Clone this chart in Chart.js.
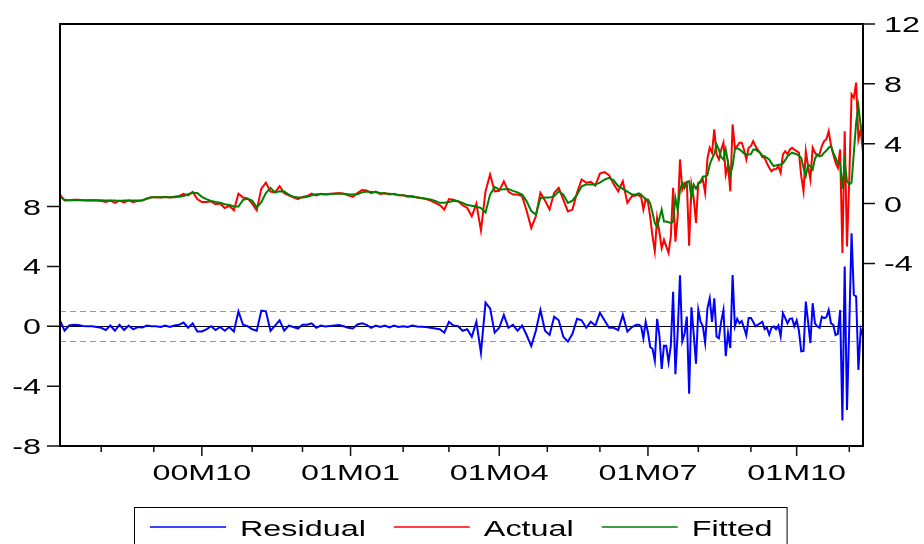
<!DOCTYPE html>
<html>
<head>
<meta charset="utf-8">
<script src="https://cdn.jsdelivr.net/npm/chart.js@4.4.1/dist/chart.umd.min.js"></script>
<style>
html, body { margin: 0; padding: 0; background: #fff; }
#wrap { width: 924px; height: 544px; position: relative; }
</style>
</head>
<body>
<div id="wrap"><canvas id="residualchart"></canvas></div>
<script>
// business-day sample: every 2nd day up to day 252, then every day to the end
const firstDay = new Date(2000, 6, 6)
const lastDay = new Date(2001, 10, 9)

const seriesNames = ['Residual', 'Actual', 'Fitted']
const seriesColors = ['#0000ff', '#ff0000', '#008000']

const actual = [
  0.6, 0.2, 0.22, 0.25, 0.25, 0.22, 0.2, 0.22, 0.2, 0.18,
  0.1, 0.2, 0.05, 0.2, 0.08, 0.22, 0.1, 0.18, 0.2, 0.35,
  0.42, 0.42, 0.4, 0.45, 0.4, 0.45, 0.5, 0.65, 0.55, 0.78,
  0.3, 0.1, 0.1, 0.15, -0.05, 0.0, -0.3, -0.15, -0.45, 0.65,
  0.4, 0.35, 0.0, -0.45, 1.0, 1.4, 0.8, 0.75, 1.16, 0.7,
  0.55, 0.42, 0.3, 0.45, 0.5, 0.67, 0.55, 0.65, 0.6, 0.65,
  0.68, 0.7, 0.65, 0.55, 0.45, 0.7, 0.9, 0.88, 0.7, 0.8,
  0.65, 0.7, 0.6, 0.65, 0.55, 0.55, 0.45, 0.5, 0.4, 0.35,
  0.3, 0.2, 0.05, -0.1, -0.4, 0.3, 0.25, 0.15, -0.1, -0.29,
  -0.85, 0.0, -1.79, 0.82, 1.94, 0.82, 0.85, 1.49, 0.8, 0.6,
  0.6, 0.5, -0.5, -1.63, -0.85, 0.72, 0.2, -0.4, 0.72, 1.05,
  0.27, -0.52, -0.4, 0.72, 1.61, 1.4, 1.45, 1.2, 2.0, 2.1,
  1.9, 1.3, 0.82, 1.49, 0.05, 0.49, 0.55,
  // daily from here
  0.55, 0.45, -0.4, 0.3, 0.1, -0.9, -2.2, -3.19, -0.96, -1.9,
  -2.97, -2.41, -2.86, -3.3, -2.19, 1.05, -2.55, -0.85, 2.95, 0.94,
  1.39, 1.39, -2.81, 1.27, 0.38, -1.29, 1.39, 1.4, 1.6, 0.72,
  3.0, 3.73, 3.4, 4.96, 3.28, 2.95, 3.6, 4.07, 1.94, 2.6,
  0.82, 5.29, 3.73, 3.84, 4.07, 4.07, 3.6, 2.95, 3.73, 3.84,
  4.17, 3.84, 3.6, 3.4, 3.1, 3.06, 2.7, 2.39, 2.16, 2.3,
  2.3, 2.5, 2.05, 3.28, 3.5, 3.3, 3.6, 3.73, 3.6, 3.5,
  3.4, 1.83, 0.82, 3.5, 2.5, 1.61, 3.73, 3.4, 3.2, 3.3,
  3.84, 4.17, 4.3, 4.84, 3.9, 3.3, 2.73, 2.39, 3.62, -3.3,
  4.84, -2.86, 1.61, 7.3, 7.08, 8.08, 4.29, 4.96, 3.4
]

const fitted = [
  0.45, 0.25, 0.22, 0.22, 0.22, 0.22, 0.22, 0.22, 0.22, 0.22,
  0.2, 0.2, 0.2, 0.18, 0.2, 0.2, 0.2, 0.2, 0.22, 0.32,
  0.42, 0.42, 0.42, 0.42, 0.42, 0.43, 0.45, 0.5, 0.62, 0.72,
  0.7, 0.45, 0.3, 0.18, 0.1, 0.05, -0.05, -0.1, -0.2, -0.2,
  0.25, 0.32, 0.2, -0.25, 0.1, 0.7, 1.05, 0.75, 0.82, 0.8,
  0.6, 0.45, 0.4, 0.4, 0.45, 0.55, 0.62, 0.62, 0.63, 0.63,
  0.65, 0.65, 0.65, 0.62, 0.6, 0.62, 0.75, 0.8, 0.78, 0.75,
  0.7, 0.68, 0.66, 0.63, 0.58, 0.55, 0.5, 0.45, 0.42, 0.38,
  0.33, 0.28, 0.18, 0.05, 0.05, 0.1, 0.18, 0.15, 0.05, -0.1,
  -0.15, -0.2, -0.3, -0.6, 0.6, 1.1, 0.94, 0.95, 0.98, 0.85,
  0.75, 0.6, 0.15, -0.5, -0.74, 0.38, 0.4, 0.4, 0.5, 0.82,
  0.6, 0.05, 0.2, 0.6, 1.16, 1.27, 1.27, 1.27, 1.4, 1.6,
  1.72, 1.55, 1.16, 0.98, 0.8, 0.6, 0.62,
  // daily from here
  0.68, 0.6, 0.45, 0.27, 0.27, 0.0, -0.62, -1.3, -1.56, -1.0,
  -0.4, -1.2, -1.2, -1.25, -1.29, -1.2, 0.38, -0.4, 0.9, 1.39,
  1.05, 1.45, 1.49, 0.38, 1.27, 1.0, 1.3, 1.5, 1.8, 1.83,
  1.9, 2.6, 3.0, 3.3, 3.95, 3.6, 3.1, 2.95, 3.62, 2.73,
  1.94, 2.5, 3.62, 3.7, 3.62, 3.5, 3.35, 3.28, 3.28, 3.3,
  3.6, 3.62, 3.5, 3.4, 3.2, 3.17, 3.05, 2.95, 2.7, 2.5,
  2.55, 2.6, 2.61, 2.7, 2.9, 3.17, 3.3, 3.4, 3.35, 3.3,
  3.2, 3.06, 2.4, 1.83, 2.6, 2.5, 2.28, 3.0, 3.28, 3.15,
  3.2, 3.4, 3.55, 3.73, 3.84, 3.4, 3.06, 2.7, 2.7, 1.0,
  2.73, 1.5, 1.27, 1.4, 3.4, 5.41, 6.52, 5.18, 4.4
]

const residual = [
  0.4, -0.3, 0.05, 0.1, 0.08, 0.02, 0.0, 0.0, -0.05, -0.1,
  -0.25, 0.05, -0.3, 0.1, -0.25, 0.05, -0.2, -0.05, -0.08, 0.05,
  0.0, 0.0, -0.05, 0.05, -0.05, 0.05, 0.1, 0.25, -0.1, 0.2,
  -0.35, -0.35, -0.2, 0.0, -0.25, -0.05, -0.3, -0.05, -0.35, 1.0,
  0.1, 0.0, -0.2, -0.3, 1.05, 1.0, -0.3, 0.05, 0.4, -0.3,
  0.05, -0.05, -0.15, 0.1, 0.1, 0.2, -0.1, 0.05, -0.02, 0.02,
  0.05, 0.08, 0.0, -0.1, -0.15, 0.12, 0.2, 0.1, -0.1, 0.05,
  -0.05, 0.05, -0.08, 0.05, -0.05, 0.0, -0.05, 0.05, -0.02, -0.03,
  -0.05, -0.1, -0.15, -0.2, -0.43, 0.3, 0.05, 0.0, -0.3, -0.2,
  -0.7, 0.3, -1.77, 1.58, 1.2, -0.43, -0.1, 0.76, -0.1, 0.1,
  -0.3, 0.05, -0.6, -1.32, -0.3, 1.09, -0.3, -0.58, 0.64, 0.4,
  -0.7, -1.03, -0.5, 0.5, 0.4, -0.1, 0.3, 0.05, 0.9, 0.4,
  -0.1, -0.1, -0.25, 0.76, -0.36, -0.05, 0.1,
  // daily from here
  0.1, 0.0, -0.8, 0.3, -0.4, -1.4, -1.5, -2.3, 0.5, -0.6,
  -2.85, -1.3, -1.3, -2.4, -1.3, 2.3, -3.2, -0.4, 3.4, -1.0,
  -0.5, 0.65, -4.5, 1.27, -0.5, -2.5, 1.1, 0.3, 0.0, -1.1,
  1.2, 1.87, 0.3, 1.87, -0.7, -0.8, 0.3, 1.09, -2.0, -0.45,
  -1.45, 3.43, 0.0, 0.5, 0.2, 0.35, -0.1, -0.6, 0.55, 0.55,
  0.3, 0.0, 0.1, 0.2, 0.3, -0.2, -0.1, -0.56, -0.1, 0.0,
  -0.2, 0.05, -0.67, 0.87, 0.55, 0.2, 0.5, 0.53, 0.0, 0.4,
  -0.3, -1.67, -1.65, 1.65, 0.3, -1.12, 1.54, 0.2, 0.0, -0.1,
  0.64, 0.55, 0.6, 1.09, 0.2, 0.1, -0.58, -0.5, 1.09, -6.3,
  3.99, -5.6, 0.0, 6.22, 2.09, 2.0, -2.92, -0.2, -0.67
]

const leftTicks = [-8, -4, 0, 4, 8]
const rightTicks = [-4, 0, 4, 8, 12]
const residualBand = [-1, 1]
const quarterMonths = [0, 3, 6, 9]

const textStretch = 1.47
const labelFont = '22px "Liberation Sans", Arial, sans-serif'

// business days of the sample
let businessDays = []
for (let d = new Date(firstDay); d <= lastDay; d.setDate(d.getDate() + 1)) {
    let wd = d.getDay()
    if (wd !== 0 && wd !== 6) {
        businessDays.push(new Date(d))
    }
}

let obsDay = []
for (let d = 0; d <= 252; d += 2) obsDay.push(d)
for (let d = 253; d < businessDays.length; d++) obsDay.push(d)

let monthStarts = []
for (let i = 1; i < businessDays.length; i++) {
    if (businessDays[i].getMonth() !== businessDays[i - 1].getMonth()) {
        monthStarts.push(i)
    }
}

function toPoints(values) {
    return values.map(function (v, i) { return { x: obsDay[i], y: v } })
}

function wideText(ctx, text, x, y, align) {
    ctx.save()
    ctx.translate(x, y)
    ctx.scale(textStretch, 1)
    ctx.textAlign = align
    ctx.textBaseline = 'alphabetic'
    ctx.fillText(text, 0, 0)
    ctx.restore()
}

function monthLabel(date) {
    let yy = String(date.getFullYear() % 100).padStart(2, '0')
    let mm = String(date.getMonth() + 1).padStart(2, '0')
    return yy + 'M' + mm
}

const eviewsLook = {
    id: 'eviewsLook',
    beforeDatasetsDraw(chart) {
        const ctx = chart.ctx
        const area = chart.chartArea
        const yl = chart.scales.yLeft
        ctx.save()
        ctx.lineWidth = 1
        ctx.strokeStyle = '#9a9a9a'
        ctx.setLineDash([6, 4])
        residualBand.forEach(function (v) {
            let y = Math.round(yl.getPixelForValue(v)) + 0.5
            ctx.beginPath()
            ctx.moveTo(area.left, y)
            ctx.lineTo(area.right, y)
            ctx.stroke()
        })
        ctx.setLineDash([])
        ctx.strokeStyle = '#000'
        let y0 = Math.round(yl.getPixelForValue(0)) + 0.5
        ctx.beginPath()
        ctx.moveTo(area.left, y0)
        ctx.lineTo(area.right, y0)
        ctx.stroke()
        ctx.restore()
    },
    afterDatasetsDraw(chart) {
        const ctx = chart.ctx
        const area = chart.chartArea
        const xs = chart.scales.x
        const yl = chart.scales.yLeft
        const yr = chart.scales.yRight
        ctx.save()

        // frame
        ctx.strokeStyle = '#000'
        ctx.lineWidth = 2
        ctx.strokeRect(area.left, area.top, area.right - area.left, area.bottom - area.top)

        // tick marks
        ctx.lineWidth = 1.5
        ctx.strokeStyle = '#111'
        ctx.beginPath()
        leftTicks.forEach(function (v) {
            let y = yl.getPixelForValue(v)
            ctx.moveTo(area.left - 13, y)
            ctx.lineTo(area.left, y)
        })
        rightTicks.forEach(function (v) {
            let y = yr.getPixelForValue(v)
            ctx.moveTo(area.right, y)
            ctx.lineTo(area.right + 12, y)
        })
        monthStarts.forEach(function (i) {
            let x = xs.getPixelForValue(i)
            let long = quarterMonths.includes(businessDays[i].getMonth())
            ctx.moveTo(x, area.bottom)
            ctx.lineTo(x, area.bottom + (long ? 10 : 6))
        })
        ctx.stroke()

        // tick labels
        ctx.fillStyle = '#000'
        ctx.font = labelFont
        leftTicks.forEach(function (v) {
            wideText(ctx, String(v), 41, yl.getPixelForValue(v) + 8, 'right')
        })
        rightTicks.forEach(function (v) {
            wideText(ctx, String(v), 884, yr.getPixelForValue(v) + 8, 'left')
        })
        monthStarts.forEach(function (i) {
            if (quarterMonths.includes(businessDays[i].getMonth())) {
                wideText(ctx, monthLabel(businessDays[i]), xs.getPixelForValue(i), 480, 'center')
            }
        })

        // legend
        let lx = 150
        let items = []
        chart.data.datasets.forEach(function (ds) {
            let w = ctx.measureText(ds.label).width * textStretch
            items.push({ ds: ds, x: lx, w: w })
            lx = lx + 90 + w + 28
        })
        let last = items[items.length - 1]
        ctx.lineWidth = 1
        ctx.strokeStyle = '#000'
        ctx.strokeRect(134.5, 507.5, last.x + 90 + last.w + 14 - 134, 60)
        items.forEach(function (it) {
            ctx.strokeStyle = it.ds.borderColor
            ctx.lineWidth = 1.5
            ctx.beginPath()
            ctx.moveTo(it.x, 527)
            ctx.lineTo(it.x + 76, 527)
            ctx.stroke()
            wideText(ctx, it.ds.label, it.x + 90, 536, 'left')
        })
        ctx.restore()
    }
}

const seriesValues = [residual, actual, fitted]
const seriesAxis = ['yLeft', 'yRight', 'yRight']

new Chart(document.getElementById('residualchart'), {
    type: 'line',
    data: {
        datasets: seriesNames.map(function (name, i) {
            return {
                label: name,
                data: toPoints(seriesValues[i]),
                yAxisID: seriesAxis[i],
                borderColor: seriesColors[i],
                borderWidth: 2,
                pointRadius: 0,
                tension: 0,
                fill: false,
                order: 2 - i
            }
        })
    },
    options: {
        responsive: true,
        maintainAspectRatio: false,
        devicePixelRatio: 1,
        animation: false,
        events: [],
        layout: { padding: { top: 24, left: 0, right: 0, bottom: 0 } },
        plugins: {
            legend: { display: false },
            tooltip: { enabled: false }
        },
        scales: {
            x: {
                type: 'linear',
                min: 0,
                max: businessDays.length - 1,
                ticks: { display: false },
                grid: { display: false },
                border: { display: false },
                afterFit: function (s) { s.height = 98 }
            },
            yLeft: {
                position: 'left',
                min: -8,
                max: 20.2,
                ticks: { display: false },
                grid: { display: false },
                border: { display: false },
                afterFit: function (s) { s.width = 60 }
            },
            yRight: {
                position: 'right',
                min: -16.2,
                max: 12,
                ticks: { display: false },
                grid: { display: false },
                border: { display: false },
                afterFit: function (s) { s.width = 61 }
            }
        }
    },
    plugins: [eviewsLook]
})
</script>
</body>
</html>
